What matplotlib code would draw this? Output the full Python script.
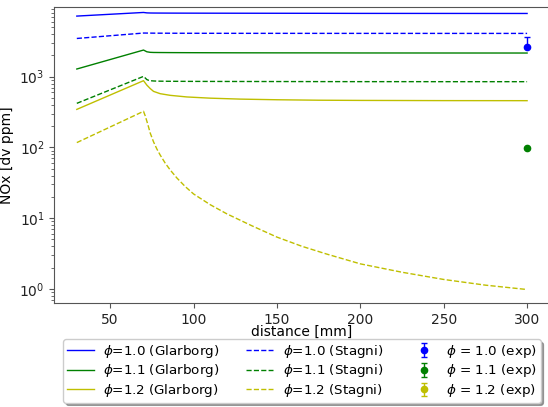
import numpy as np
import matplotlib
matplotlib.use("Agg")
import matplotlib.pyplot as plt

# distance [mm] and NOx [ppm]
x_glar = [30, 70, 72, 74, 76, 80, 86, 96, 110, 128, 150, 175, 200, 250, 300]
glar_10 = [7190, 8090, 7980, 7950, 7940, 7930, 7920, 7910, 7900, 7890, 7880, 7870, 7850, 7840, 7830]
glar_11 = [1284, 2380, 2250, 2210, 2200, 2195, 2190, 2185, 2180, 2175, 2172, 2170, 2165, 2162, 2160]
glar_12 = [345, 878, 760, 680, 620, 575, 545, 517, 497, 482, 472, 465, 462, 459, 458]

x_stag = [30, 70, 71, 72, 73, 74, 76, 78, 80, 83, 86, 90, 95, 100, 110, 120, 135, 150,
          165, 180, 200, 225, 250, 275, 300]
stag_10 = [3470, 4140, 4138, 4135, 4132, 4130, 4125, 4122, 4120, 4118, 4115, 4112, 4110, 4108,
           4105, 4103, 4100, 4100, 4098, 4096, 4095, 4094, 4092, 4091, 4090]
stag_11 = [420, 1010, 960, 910, 890, 878, 870, 866, 864, 862, 861, 860, 859, 858,
           857, 856, 855, 854, 853, 852, 851, 851, 850, 850, 850]
stag_12 = [117, 324, 280, 235, 195, 160, 120, 95, 78, 60, 48, 37, 28, 22,
           15.5, 11.5, 7.8, 5.4, 4.0, 3.1, 2.26, 1.72, 1.36, 1.13, 0.98]

x_exp = 300
exp_vals = [2600, 98, np.nan]
exp_err_lo = [0, 0, 0]
exp_err_hi = [1070, 0, 0]

phis = ["1.0", "1.1", "1.2"]
colors = ["b", "g", "y"]

fig = plt.figure(figsize=(5.48, 4.07), dpi=100)
ax = fig.add_axes([54.3 / 548, 1 - 303 / 407, (549.6 - 54.3) / 548, (303 - 7.3) / 407])

for ys, c, p in zip([glar_10, glar_11, glar_12], colors, phis):
    ax.plot(x_glar, ys, "-", color=c, lw=1, label=r"$\phi$=" + p + " (Glarborg)")
for ys, c, p in zip([stag_10, stag_11, stag_12], colors, phis):
    ax.plot(x_stag, ys, "--", color=c, lw=1, label=r"$\phi$=" + p + " (Stagni)")
for v, lo, hi, c, p in zip(exp_vals, exp_err_lo, exp_err_hi, colors, phis):
    ax.errorbar([x_exp], [v], yerr=[[lo], [hi]], fmt="o", color=c, ms=4.5, capsize=2,
                elinewidth=1, label=r"$\phi$ = " + p + " (exp)")

ax.set_yscale("log")
ax.set_xlim(16.5, 313.5)
ax.set_ylim(0.632, 9570)
ax.set_xticks([50, 100, 150, 200, 250, 300])
ax.set_xlabel("distance [mm]", fontsize=10, labelpad=-1)
ax.set_ylabel("NOx [dv ppm]", fontsize=10)
for sp in ax.spines.values():
    sp.set_color("#555555")
ax.tick_params(colors="#555555", labelcolor="#222222", labelsize=10)
ax.tick_params(which="minor", colors="#555555")

ax.legend(loc="upper center", bbox_to_anchor=(0.5, -0.105), ncol=3, fancybox=True,
          shadow=True, fontsize=9.7, labelspacing=0.2, borderaxespad=0.4,
          borderpad=0.25, handletextpad=0.7)

fig.savefig("out.png", dpi=100)
